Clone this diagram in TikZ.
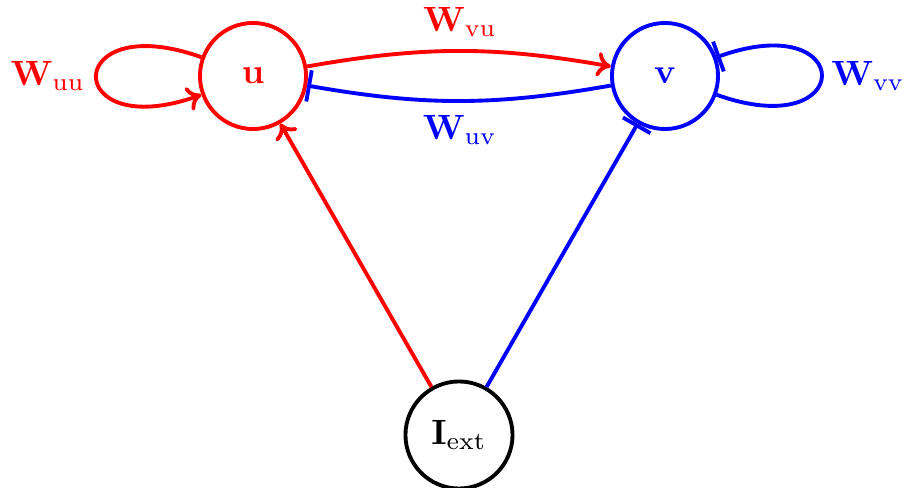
\documentclass[tikz,border=0pt]{standalone}
\usetikzlibrary{arrows.meta}
\begin{document}
\begin{tikzpicture}[x=0.01cm,y=0.01cm,
  neuron/.style={circle,draw,line width=1.1pt,inner sep=0pt},
  edgeline/.style={line width=1.1pt},
  excite/.style={edgeline,-{To[length=4pt,width=7pt]}},
  inhib/.style={edgeline,-{Bar[width=9pt]}},
  lab/.style={inner sep=0pt}]
\useasboundingbox (0,0) rectangle (905,488);
\node[neuron,minimum size=1.06cm,red] (u) at (253,412) {$\mathbf{u}$};
\node[neuron,minimum size=1.06cm,blue] (v) at (665,412) {$\mathbf{v}$};
\node[neuron,minimum size=1.07cm,black] (I) at (459,53) {$\mathbf{I}_{\mathrm{ext}}$};
% u -> v
\draw[excite,red] (u) to[bend left=10] (v);
\draw[inhib,blue] (v) to[bend left=10] (u);
% loops
\draw[excite,red] (u.160) .. controls +(-140,50) and +(-140,-50) .. (u.200);
\draw[inhib,blue] (v.-20) .. controls +(140,-50) and +(140,50) .. (v.20);
% from I
\draw[excite,red] (I) -- (u);
\draw[inhib,blue] (I) -- (v);
% labels
\node[lab,red] (lvu) at (460,466) {$\mathbf{W}_{\mathrm{vu}}$};
\node[lab,blue] (luv) at (460,358) {$\mathbf{W}_{\mathrm{uv}}$};
\node[lab,red] (luu) at (48,412) {$\mathbf{W}_{\mathrm{uu}}$};
\node[lab,blue] (lvv) at (868,412) {$\mathbf{W}_{\mathrm{vv}}$};
\end{tikzpicture}
\end{document}
